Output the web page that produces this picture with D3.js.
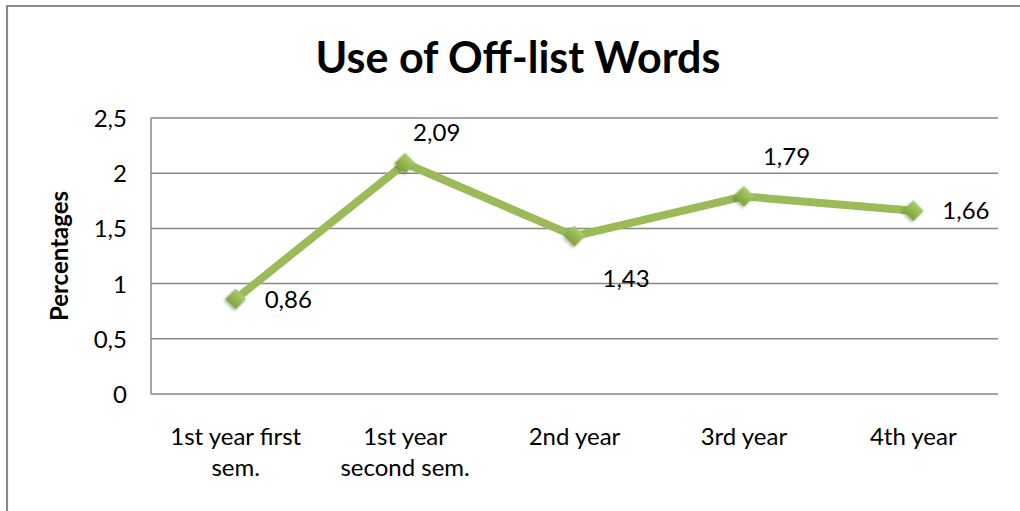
<!DOCTYPE html>
<html>
<head>
<meta charset="utf-8">
<script src="https://cdn.jsdelivr.net/npm/d3@7"></script>
<style>
  html, body { margin: 0; padding: 0; background: #fff; }
  svg { display: block; }
</style>
</head>
<body>
<svg id="chart" width="1020" height="511"></svg>
<script>
const categories = [["1st year first", "sem."], ["1st year", "second sem."], ["2nd year"], ["3rd year"], ["4th year"]];
const values = [0.86, 2.09, 1.43, 1.79, 1.66];
const yTicks = [0, 0.5, 1, 1.5, 2, 2.5];
const title = "Use of Off-list Words";
const yTitle = "Percentages";
// label offsets (dx, dy) relative to each point
const labelOffsets = [[29, 1], [8, -31], [28, 42], [19, -40], [29, 0]];

(function () {
const FONT = "Lato, 'Open Sans', sans-serif";
const FS = 24;
const svg = d3.select("#chart");

const defs = svg.append("defs");
const grad = defs.append("linearGradient").attr("id", "mk").attr("x1", 0).attr("y1", 0).attr("x2", 0).attr("y2", 1);
grad.append("stop").attr("offset", "0%").attr("stop-color", "#a9cc6a");
grad.append("stop").attr("offset", "100%").attr("stop-color", "#7ea43b");
const f = defs.append("filter").attr("id", "sh").attr("x", "-50%").attr("y", "-50%").attr("width", "200%").attr("height", "200%");
f.append("feDropShadow").attr("dx", 0).attr("dy", 2).attr("stdDeviation", 1.5).attr("flood-color", "#000").attr("flood-opacity", 0.3);

// outer frame (left and top visible)
svg.append("path").attr("d", "M7,511 L7,6 L1020,6").attr("fill", "none").attr("stroke", "#8a8a8a").attr("stroke-width", 2.2);

const pLeft = 151, pRight = 998, pTop = 118, pBottom = 394;
const x = d3.scaleBand().domain(d3.range(categories.length)).range([pLeft, pRight]);
const y = d3.scaleLinear().domain([0, 2.5]).range([pBottom, pTop]);

// gridlines
svg.append("g").selectAll("line").data(yTicks).join("line")
  .attr("x1", pLeft).attr("x2", pRight)
  .attr("y1", d => y(d)).attr("y2", d => y(d))
  .attr("stroke", "#888").attr("stroke-width", 1.5);

// y axis line
svg.append("line").attr("x1", pLeft).attr("x2", pLeft).attr("y1", pTop).attr("y2", pBottom)
  .attr("stroke", "#888").attr("stroke-width", 1.5);

// y tick labels
const yAxis = d3.axisLeft(y).tickValues(yTicks).tickSize(0).tickPadding(0)
  .tickFormat(d => String(d).replace(".", ","));
const yg = svg.append("g").attr("transform", `translate(127,0)`).call(yAxis);
yg.select(".domain").remove();
yg.selectAll("text").attr("font-family", FONT).attr("font-size", FS).attr("fill", "#000").attr("dy", "0.35em");

// x tick labels
const xg = svg.append("g");
categories.forEach((lines, i) => {
  const t = xg.append("text").attr("x", x(i) + x.bandwidth() / 2).attr("y", 445)
    .attr("text-anchor", "middle").attr("font-family", FONT).attr("font-size", FS).attr("fill", "#000");
  lines.forEach((ln, j) => {
    t.append("tspan").attr("x", x(i) + x.bandwidth() / 2).attr("dy", j === 0 ? 0 : 31).text(ln);
  });
});

// title
svg.append("text").attr("x", 518).attr("y", 73).attr("text-anchor", "middle")
  .attr("font-family", FONT).attr("font-weight", "bold").attr("font-size", 43).attr("fill", "#000")
  .text(title);

// y axis title
svg.append("text").attr("transform", `translate(68,256) rotate(-90)`).attr("text-anchor", "middle")
  .attr("font-family", FONT).attr("font-weight", "bold").attr("font-size", 24).attr("fill", "#000")
  .text(yTitle);

// line
const cx = i => x(i) + x.bandwidth() / 2;
const line = d3.line().x((d, i) => cx(i)).y(d => y(d));
svg.append("path").datum(values).attr("d", line).attr("fill", "none")
  .attr("stroke", "#9bbb59").attr("stroke-width", 8).attr("stroke-linejoin", "round");

// markers
svg.append("g").selectAll("path").data(values).join("path")
  .attr("d", d3.symbol().type(d3.symbolSquare).size(220))
  .attr("transform", (d, i) => `translate(${cx(i)},${y(d)}) rotate(45)`)
  .attr("fill", "url(#mk)").attr("filter", "url(#sh)");

// data labels
svg.append("g").selectAll("text").data(values).join("text")
  .attr("x", (d, i) => cx(i) + labelOffsets[i][0])
  .attr("y", (d, i) => y(d) + labelOffsets[i][1])
  .attr("dy", "0.35em")
  .attr("font-family", FONT).attr("font-size", FS).attr("fill", "#000")
  .text(d => d.toFixed(2).replace(".", ","));
})();
</script>
</body>
</html>
